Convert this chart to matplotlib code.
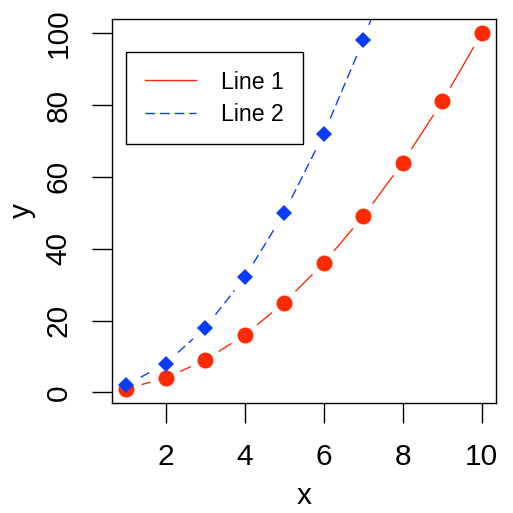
import numpy as np
import matplotlib
matplotlib.use("Agg")
import matplotlib.pyplot as plt
from matplotlib.lines import Line2D

plt.rcParams['font.family'] = ['Liberation Sans', 'DejaVu Sans']

x = [1, 2, 3, 4, 5, 6, 7, 8, 9, 10]
y1 = [1, 4, 9, 16, 25, 36, 49, 64, 81, 100]
y2 = [2, 8, 18, 32, 50, 72, 98, 128, 162, 200]
labels = ["Line 1", "Line 2"]
red = "#FF2A00"
blue = "#0A3CFF"

W = H = 384  # axes size in px
XLIM = (0.64, 10.36)
YLIM = (-2.96, 103.96)

fig = plt.figure(figsize=(5.13, 5.13), dpi=100)
ax = fig.add_axes([112/513, 110/513, W/513, H/513])
ax.set_xlim(*XLIM)
ax.set_ylim(*YLIM)

sx = W / (XLIM[1] - XLIM[0])
sy = H / (YLIM[1] - YLIM[0])
GAP = 16.5  # px gap around points (R type="b")

def gapped(xs, ys, color, dashed):
    xs = np.asarray(xs, float); ys = np.asarray(ys, float)
    for i in range(len(xs) - 1):
        dx = (xs[i+1] - xs[i]) * sx
        dy = (ys[i+1] - ys[i]) * sy
        L = np.hypot(dx, dy)
        if L <= 2 * GAP:
            continue
        ux, uy = dx / L, dy / L
        ax_ = xs[i] + ux * GAP / sx
        ay_ = ys[i] + uy * GAP / sy
        bx_ = xs[i+1] - ux * GAP / sx
        by_ = ys[i+1] - uy * GAP / sy
        ln, = ax.plot([ax_, bx_], [ay_, by_], color=color, lw=1.0)
        if dashed:
            ln.set_dashes((7, 3.5))

gapped(x, y1, red, False)
ax.plot(x, y1, 'o', color=red, ms=11.5, mew=0)
gapped(x, y2, blue, True)
ax.plot(x, y2, 'D', color=blue, ms=7.8, mew=0)

for s in ax.spines.values():
    s.set_linewidth(1.0)
ax.set_xticks([2, 4, 6, 8, 10])
ax.set_yticks([0, 20, 40, 60, 80, 100])
ax.tick_params(length=14.5, width=1.0, labelsize=21.5, pad=14)
for lab in ax.get_yticklabels():
    lab.set_rotation(90)
    lab.set_va('center')
ax.set_xlabel("x", fontsize=21.5, labelpad=8)
ax.set_ylabel("y", fontsize=21.5, labelpad=6)

h1 = Line2D([], [], color=red, lw=1.0)
h2 = Line2D([], [], color=blue, lw=1.0, ls='--', dashes=(7, 3.5))
leg = ax.legend([h1, h2], labels, loc='upper left', bbox_to_anchor=(14/384, 1 - 33/384),
                fontsize=16.7, frameon=True, fancybox=False, framealpha=1,
                handlelength=2.2, handletextpad=1.1, borderpad=0.8,
                labelspacing=0.4, borderaxespad=0)
fr = leg.get_frame()
fr.set_edgecolor('black')
fr.set_facecolor('none')
fr.set_linewidth(1.0)

fig.savefig("out.png", dpi=100, transparent=True)
